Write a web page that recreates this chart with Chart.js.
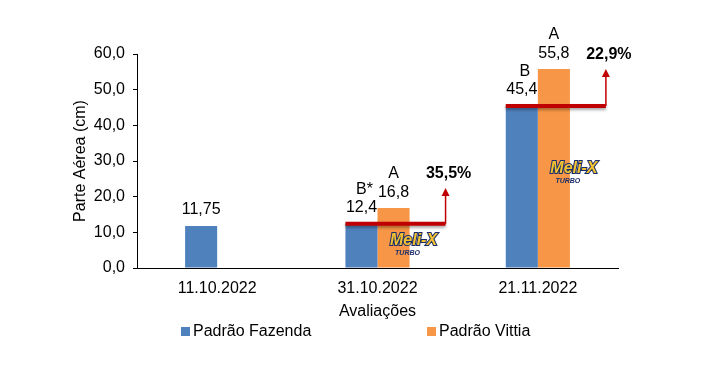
<!DOCTYPE html>
<html>
<head>
<meta charset="utf-8">
<script src="https://cdn.jsdelivr.net/npm/chart.js@4"></script>
<style>
  html, body { margin: 0; padding: 0; background: #fff; }
  #wrap { width: 709px; height: 379px; }
</style>
</head>
<body>
<div id="wrap"><canvas id="alturaChart" width="709" height="379"></canvas></div>
<script>
// Dados
const categorias = ['11.10.2022', '31.10.2022', '21.11.2022'];
const padraoFazenda = [11.75, 12.4, 45.4];
const padraoVittia = [null, 16.8, 55.8];
const rotulosFazenda = ['11,75', '12,4', '45,4'];
const rotulosVittia = ['', '16,8', '55,8'];
const letrasFazenda = ['', 'B*', 'B'];
const letrasVittia = ['', 'A', 'A'];
const ganhos = [null, '35,5%', '22,9%'];
const yTicks = [0, 10, 20, 30, 40, 50, 60];

const FONT = 'Liberation Sans, Arial, sans-serif';

/**
 * Rótulos, letras, setas de ganho, logo e legenda
 */
const anotacoes = {
    id: 'anotacoes',
    afterDatasetsDraw(chart) {
        const ctx = chart.ctx;
        const y = chart.scales.y;
        const metaF = chart.getDatasetMeta(0);
        const metaV = chart.getDatasetMeta(1);
        ctx.save();
        ctx.textAlign = 'center';
        ctx.textBaseline = 'middle';
        ctx.fillStyle = '#000';
        ctx.font = '16px ' + FONT;

        categorias.forEach((c, i) => {
            const bf = metaF.data[i];
            if (padraoFazenda[i] != null) {
                ctx.fillText(rotulosFazenda[i], bf.x, bf.y - 16);
                if (letrasFazenda[i]) ctx.fillText(letrasFazenda[i], bf.x + 3, bf.y - 34);
            }
            const bv = metaV.data[i];
            if (padraoVittia[i] != null) {
                ctx.fillText(rotulosVittia[i], bv.x, bv.y - 15);
                if (letrasVittia[i]) ctx.fillText(letrasVittia[i], bv.x, bv.y - 34);
            }
        });

        // linhas vermelhas + setas
        categorias.forEach((c, i) => {
            if (!ganhos[i]) return;
            const bf = metaF.data[i];
            const bv = metaV.data[i];
            const x0 = bf.x - bf.width / 2;
            const x1 = bv.x + bv.width / 2 + 36;
            const yl = y.getPixelForValue(padraoFazenda[i]);
            const yt = i === 1 ? bv.y - 20 : bv.y;

            ctx.save();
            ctx.shadowColor = 'rgba(0,0,0,0.35)';
            ctx.shadowBlur = 3;
            ctx.shadowOffsetY = 2;
            ctx.strokeStyle = '#c00000';
            ctx.lineWidth = 4;
            ctx.beginPath();
            ctx.moveTo(x0, yl);
            ctx.lineTo(x1, yl);
            ctx.stroke();
            ctx.restore();

            ctx.strokeStyle = '#c00000';
            ctx.fillStyle = '#c00000';
            ctx.lineWidth = 1.5;
            ctx.beginPath();
            ctx.moveTo(x1, yl);
            ctx.lineTo(x1, yt + 6);
            ctx.stroke();
            ctx.beginPath();
            ctx.moveTo(x1, yt);
            ctx.lineTo(x1 - 4, yt + 8);
            ctx.lineTo(x1 + 4, yt + 8);
            ctx.closePath();
            ctx.fill();

            ctx.fillStyle = '#000';
            ctx.font = 'bold 16px ' + FONT;
            ctx.fillText(ganhos[i], x1 + 3, yt - 14);
            ctx.font = '16px ' + FONT;

            // logo Meli-X
            const lx = bv.x + 20;
            const ly = i === 1 ? y.getPixelForValue(6.8) : y.getPixelForValue(27);
            ctx.save();
            ctx.textAlign = 'center';
            ctx.font = 'italic bold 16px ' + FONT;
            ctx.lineWidth = 2;
            ctx.strokeStyle = '#1a2d6b';
            ctx.strokeText('Meli-X', lx, ly - 3);
            ctx.fillStyle = '#f2c230';
            ctx.fillText('Meli-X', lx, ly - 3);
            ctx.font = 'italic bold 7px ' + FONT;
            ctx.fillStyle = '#1a2d6b';
            ctx.fillText('TURBO', lx - 6, ly + 9);
            ctx.restore();
        });

        // legenda
        const itens = [
            { txt: 'Padrão Fazenda', cor: '#4f81bd', x: 181 },
            { txt: 'Padrão Vittia', cor: '#f79646', x: 427 }
        ];
        ctx.textAlign = 'left';
        itens.forEach(it => {
            ctx.fillStyle = it.cor;
            ctx.fillRect(it.x, 327, 9, 9);
            ctx.fillStyle = '#000';
            ctx.fillText(it.txt, it.x + 12, 332);
        });
        ctx.restore();
    }
};

new Chart(document.getElementById('alturaChart'), {
    type: 'bar',
    data: {
        labels: categorias,
        datasets: [
            { label: 'Padrão Fazenda', data: padraoFazenda, backgroundColor: '#4f81bd' },
            { label: 'Padrão Vittia', data: padraoVittia, backgroundColor: '#f79646' }
        ]
    },
    options: {
        responsive: false,
        animation: false,
        categoryPercentage: 0.4,
        barPercentage: 1.0,
        layout: { padding: { left: 71, right: 91, top: 54, bottom: 51 } },
        plugins: {
            legend: { display: false },
            tooltip: { enabled: false }
        },
        scales: {
            x: {
                afterFit: s => { s.height = 60; },
                grid: { display: false, drawTicks: false },
                border: { display: true, color: '#000', width: 1 },
                ticks: { color: '#000', padding: 11, font: { family: FONT, size: 16 } },
                title: {
                    display: true, text: 'Avaliações', color: '#000',
                    font: { family: FONT, size: 16 }, padding: { top: 0, bottom: 7 }
                }
            },
            y: {
                min: 0, max: 60,
                afterFit: s => { s.width = 66; },
                afterBuildTicks: s => { s.ticks = yTicks.map(v => ({ value: v })); },
                grid: { display: true, drawOnChartArea: false, drawTicks: true, tickLength: 4, color: '#000' },
                border: { display: true, color: '#000', width: 1 },
                ticks: {
                    color: '#000', padding: 8, font: { family: FONT, size: 16 },
                    callback: v => v.toFixed(1).replace('.', ',')
                },
                title: {
                    display: true, text: 'Parte Aérea (cm)', color: '#000',
                    font: { family: FONT, size: 16 }, padding: { top: 0, bottom: 0 }
                }
            }
        }
    },
    plugins: [anotacoes]
});
</script>
</body>
</html>
